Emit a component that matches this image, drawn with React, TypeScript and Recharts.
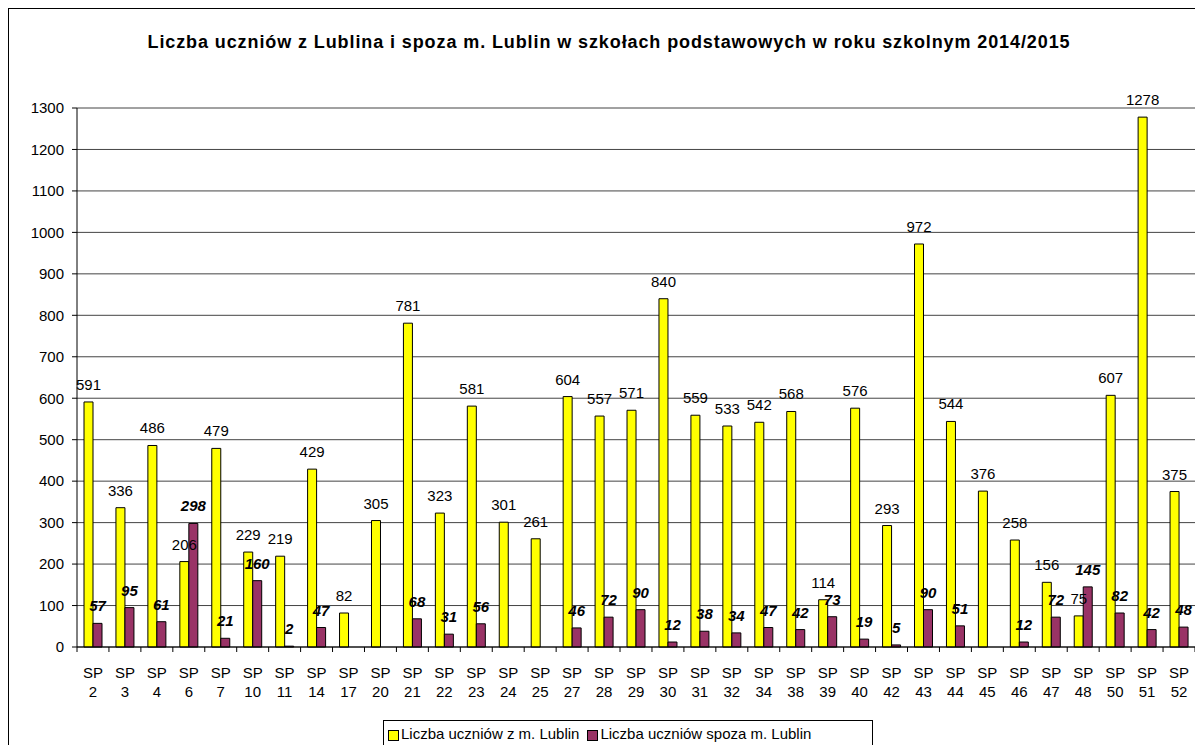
import { BarChart, Bar, XAxis, YAxis, CartesianGrid, LabelList } from "recharts";

const schools = [
  "2", "3", "4", "6", "7", "10", "11", "14", "17", "20", "21", "22", "23", "24",
  "25", "27", "28", "29", "30", "31", "32", "34", "38", "39", "40", "42", "43",
  "44", "45", "46", "47", "48", "50", "51", "52",
];
const fromLublin = [
  591, 336, 486, 206, 479, 229, 219, 429, 82, 305, 781, 323, 581, 301, 261, 604,
  557, 571, 840, 559, 533, 542, 568, 114, 576, 293, 972, 544, 376, 258, 156, 75,
  607, 1278, 375,
];
const outsideLublin = [
  57, 95, 61, 298, 21, 160, 2, 47, 0, 0, 68, 31, 56, 0, 0, 46, 72, 90, 12, 38, 34,
  47, 42, 73, 19, 5, 90, 51, 0, 12, 72, 145, 82, 42, 48,
];
const yTicks = [0, 100, 200, 300, 400, 500, 600, 700, 800, 900, 1000, 1100, 1200, 1300];

const data = schools.map((s, i) => ({
  name: s,
  lublin: fromLublin[i],
  outside: outsideLublin[i],
}));

const FONT = "Arial, 'Liberation Sans', sans-serif";
const PLOT_LEFT = 77;
const PLOT_RIGHT = 1195;
const band = (PLOT_RIGHT - PLOT_LEFT) / schools.length;

function XTick({ x, y, payload, index }: any) {
  const last = index === schools.length - 1;
  return (
    <g>
      <line x1={x - band / 2} x2={x - band / 2} y1={y} y2={y + 5} stroke="#000" />
      {last && <line x1={x + band / 2} x2={x + band / 2} y1={y} y2={y + 5} stroke="#000" />}
      <text x={x} y={y + 31} textAnchor="middle" fontSize={15} fill="#000" fontFamily={FONT}>
        SP
      </text>
      <text x={x} y={y + 50} textAnchor="middle" fontSize={15} fill="#000" fontFamily={FONT}>
        {payload.value}
      </text>
    </g>
  );
}

const plainLabel = ({ x, y, width, value }: any) => (
  <text x={x + width / 2} y={y - 12} textAnchor="middle" fontSize={15} fill="#000" fontFamily={FONT}>
    {value}
  </text>
);

const boldLabel = ({ x, y, width, value }: any) => (
  <text
    x={x + width / 2}
    y={y - 12}
    textAnchor="middle"
    fontSize={15}
    fontWeight="bold"
    fontStyle="italic"
    fill="#000"
    fontFamily={FONT}
  >
    {value}
  </text>
);

export default function App() {
  return (
    <div
      style={{
        position: "fixed",
        left: 0,
        top: 0,
        width: 1195,
        height: 745,
        overflow: "hidden",
        background: "#fff",
        fontFamily: FONT,
      }}
    >
      <div
        style={{
          position: "absolute",
          left: 8,
          top: 8,
          width: 1300,
          height: 900,
          border: "1px solid #000",
        }}
      />
      <div
        style={{
          position: "absolute",
          left: 0,
          top: 32,
          width: 1218,
          textAlign: "center",
          fontSize: 18,
          letterSpacing: 0.9,
          fontWeight: "bold",
          color: "#000",
        }}
      >
        Liczba uczniów z Lublina i spoza m. Lublin w szkołach podstawowych w roku szkolnym 2014/2015
      </div>
      <div style={{ position: "absolute", left: 0, top: 0 }}>
        <BarChart
          width={1195}
          height={745}
          data={data}
          margin={{ top: 108, right: 0, bottom: 38, left: 0 }}
          barGap={0}
          barSize={9}
        >
          <CartesianGrid vertical={false} stroke="#444" />
          <XAxis
            dataKey="name"
            height={60}
            interval={0}
            tickLine={false}
            tickSize={0}
            tickMargin={0}
            stroke="#000"
            tick={<XTick />}
          />
          <YAxis
            width={PLOT_LEFT}
            domain={[0, 1300]}
            ticks={yTicks}
            interval={0}
            tickSize={5}
            tickMargin={8}
            stroke="#000"
            tick={{ fill: "#000", fontSize: 15, fontFamily: FONT }}
          />
          <Bar dataKey="lublin" fill="#FFFF00" stroke="#000" strokeWidth={1} isAnimationActive={false}>
            <LabelList dataKey="lublin" content={plainLabel} />
          </Bar>
          <Bar dataKey="outside" fill="#993366" stroke="#000" strokeWidth={1} isAnimationActive={false}>
            <LabelList dataKey="outside" content={boldLabel} />
          </Bar>
        </BarChart>
      </div>
      <div
        style={{
          position: "absolute",
          left: 383,
          top: 720,
          width: 490,
          height: 28,
          border: "1px solid #000",
          background: "#fff",
          display: "flex",
          alignItems: "flex-start",
          paddingTop: 4,
          paddingLeft: 4,
          boxSizing: "border-box",
          fontSize: 15,
          color: "#000",
        }}
      >
        <span
          style={{
            display: "inline-block",
            width: 9,
            height: 9,
            background: "#FFFF00",
            border: "1px solid #000",
            marginTop: 5,
            marginRight: 2,
          }}
        />
        <span>Liczba uczniów z m. Lublin</span>
        <span
          style={{
            display: "inline-block",
            width: 9,
            height: 9,
            background: "#993366",
            border: "1px solid #000",
            marginTop: 5,
            marginLeft: 8,
            marginRight: 2,
          }}
        />
        <span>Liczba uczniów spoza m. Lublin</span>
      </div>
    </div>
  );
}
